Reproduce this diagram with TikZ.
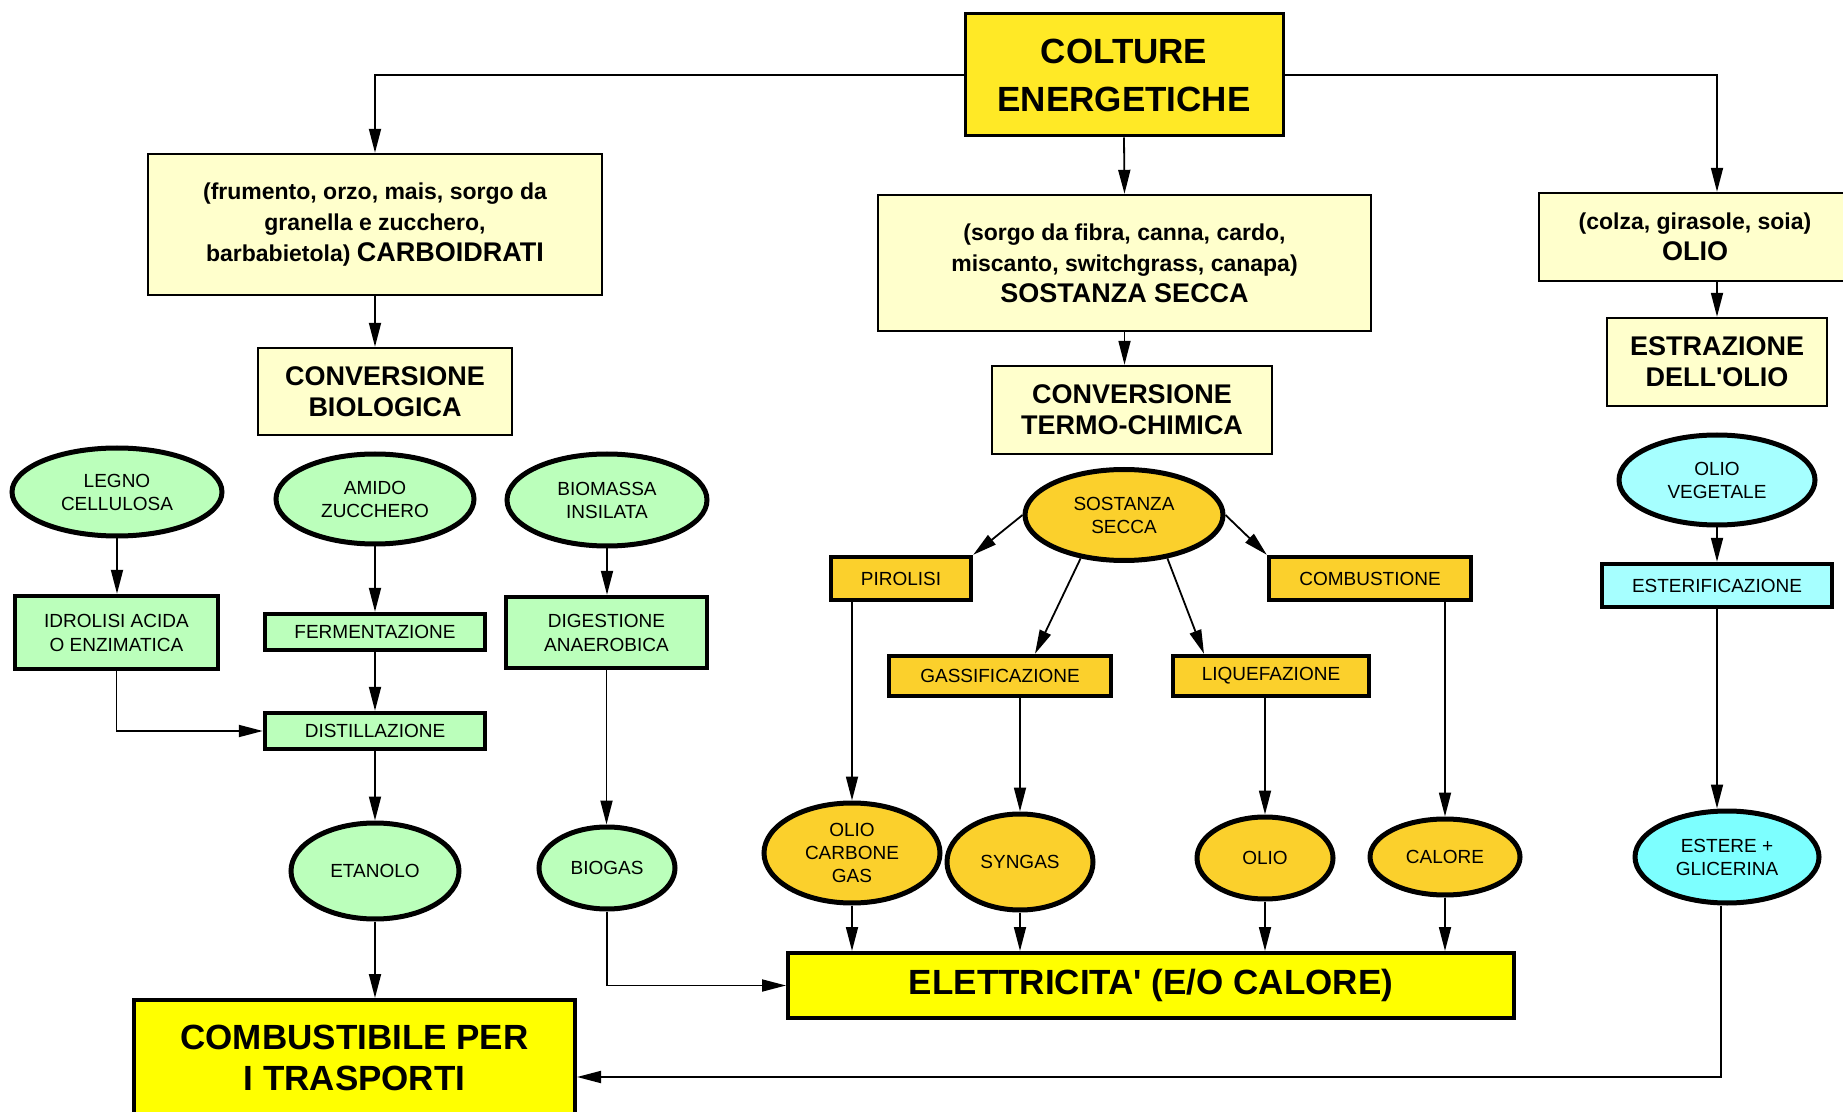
\documentclass[tikz,border=0pt]{standalone}
\usepackage{fontspec}
\setmainfont{Liberation Sans}
\usetikzlibrary{arrows.meta,shapes.geometric}

\definecolor{gtop}{HTML}{FFE926}
\definecolor{gbig}{HTML}{FFFF00}
\definecolor{gch}{HTML}{FFFFCC}
\definecolor{verde}{HTML}{BBFFBB}
\definecolor{arancio}{HTML}{FBD02C}
\definecolor{ciano}{HTML}{A6FFFF}
\definecolor{cianof}{HTML}{7DFFFF}
\newcommand{\piccolo}{\fontsize{11.5}{14.5}\selectfont}

\begin{document}
\begin{tikzpicture}[>={Triangle[length=12pt,width=6pt]},x=0.5pt,y=-0.5pt,
  top/.style={draw,line width=1.5pt,fill=gtop,align=center,inner sep=0pt,
              font=\fontsize{17.5}{24}\selectfont\bfseries},
  big/.style={draw,line width=2pt,fill=gbig,align=center,inner sep=0pt,
              font=\fontsize{17.5}{20.5}\selectfont\bfseries},
  ly/.style={draw,line width=1.2pt,fill=gch,align=center,inner sep=0pt,
             font=\fontsize{13.5}{15.5}\selectfont\bfseries},
  bx/.style={draw,line width=2.2pt,align=center,inner sep=0pt,
             font=\fontsize{9.5}{12}\selectfont},
  el/.style={ellipse,draw,line width=2.5pt,align=center,inner sep=0pt,
             font=\fontsize{9.5}{11.5}\selectfont},
  fl/.style={->,line width=0.9pt}]
\useasboundingbox (0,0) rectangle (1843,1112);
% top row
\node[top,minimum width=159pt,minimum height=61pt] (colt) at (1124,75)
  {COLTURE\\ENERGETICHE};
\node[ly,minimum width=227pt,minimum height=70.5pt] (carbo) at (375,224.5)
  {\piccolo (frumento, orzo, mais, sorgo da\\\piccolo granella e zucchero,\\
   \piccolo barbabietola) {\fontsize{13.5}{14.5}\selectfont CARBOIDRATI}};
\node[ly,minimum width=246.5pt,minimum height=68pt] (secca) at (1124.5,263)
  {\piccolo (sorgo da fibra, canna, cardo,\\\piccolo miscanto, switchgrass, canapa)\\
   SOSTANZA SECCA};
\node[ly,minimum width=156pt,minimum height=44pt] (olio) at (1695,237)
  {\piccolo (colza, girasole, soia)\\OLIO};
\node[ly,minimum width=127pt,minimum height=43.5pt] (convb) at (385,391.5)
  {CONVERSIONE\\BIOLOGICA};
\node[ly,minimum width=140pt,minimum height=44pt] (convt) at (1132,410)
  {CONVERSIONE\\TERMO-CHIMICA};
\node[ly,minimum width=110pt,minimum height=44pt] (estr) at (1717,362)
  {ESTRAZIONE\\DELL\textquotesingle OLIO};
% biological branch
\node[el,fill=verde,minimum width=105pt,minimum height=44pt] (legno) at (117,492)
  {LEGNO\\CELLULOSA};
\node[el,fill=verde,minimum width=99pt,minimum height=45pt] (amido) at (375,499)
  {AMIDO\\ZUCCHERO};
\node[el,fill=verde,minimum width=100pt,minimum height=46pt] (biom) at (607,500)
  {BIOMASSA\\INSILATA};
\node[bx,fill=verde,minimum width=101.5pt,minimum height=36.5pt] (idrol) at (116.5,632.5)
  {IDROLISI ACIDA\\O ENZIMATICA};
\node[bx,fill=verde,minimum width=110pt,minimum height=18pt] (ferm) at (375,632)
  {FERMENTAZIONE};
\node[bx,fill=verde,minimum width=100.5pt,minimum height=35.5pt] (dig) at (606.5,632.5)
  {DIGESTIONE\\ANAEROBICA};
\node[bx,fill=verde,minimum width=110pt,minimum height=18pt] (dist) at (375,731)
  {DISTILLAZIONE};
\node[el,fill=verde,minimum width=84pt,minimum height=48pt] (etan) at (375,871)
  {ETANOLO};
\node[el,fill=verde,minimum width=68pt,minimum height=41pt] (biogas) at (607,868)
  {BIOGAS};
% thermo-chemical branch
\node[el,fill=arancio,minimum width=99pt,minimum height=45.5pt] (sost) at (1124,515)
  {SOSTANZA\\SECCA};
\node[bx,fill=arancio,minimum width=70pt,minimum height=21.5pt] (pir) at (901,578.5)
  {PIROLISI};
\node[bx,fill=arancio,minimum width=101pt,minimum height=21.5pt] (cmb) at (1370,578.5)
  {COMBUSTIONE};
\node[bx,fill=arancio,minimum width=111pt,minimum height=20pt] (gass) at (1000,676)
  {GASSIFICAZIONE};
\node[bx,fill=arancio,minimum width=98pt,minimum height=20pt] (liq) at (1271,676)
  {LIQUEFAZIONE};
\node[el,fill=arancio,minimum width=88pt,minimum height=50pt] (ocg) at (852,853)
  {OLIO\\CARBONE\\GAS};
\node[el,fill=arancio,minimum width=73pt,minimum height=48pt] (syn) at (1020,862)
  {SYNGAS};
\node[el,fill=arancio,minimum width=68pt,minimum height=41pt] (oliout) at (1265,858)
  {OLIO};
\node[el,fill=arancio,minimum width=75pt,minimum height=38pt] (cal) at (1445,857)
  {CALORE};
% oil branch
\node[el,fill=ciano,minimum width=98pt,minimum height=45pt] (oveg) at (1717,480)
  {OLIO\\VEGETALE};
\node[bx,fill=ciano,minimum width=115pt,minimum height=21.5pt] (ester) at (1717,585.5)
  {ESTERIFICAZIONE};
\node[el,fill=cianof,minimum width=92pt,minimum height=46pt] (eg) at (1727,857)
  {ESTERE +\\GLICERINA};
% final products
\node[big,minimum width=363pt,minimum height=32.5pt] (elet) at (1151,985.5)
  {ELETTRICITA\textquotesingle{} (E/O CALORE)};
\node[big,minimum width=220.5pt,minimum height=58pt] (comb) at (354.5,1058)
  {COMBUSTIBILE PER\\I TRASPORTI};
% connectors
\draw[fl] (colt.west) -| (carbo.north);
\draw[fl] (colt.south) -- (secca.north);
\draw[fl] (colt.east) -| (olio.north -| estr.north);
\draw[fl] (carbo.south) -- (carbo.south |- convb.north);
\draw[fl] (secca.south) -- (secca.south |- convt.north);
\draw[fl] (olio.south -| estr.north) -- (estr.north);
\draw[fl] (legno.south) -- (legno.south |- idrol.north);
\draw[fl] (amido.south) -- (ferm.north);
\draw[fl] (biom.south) -- (biom.south |- dig.north);
\draw[fl] (idrol.south) |- (dist.west);
\draw[fl] (ferm.south) -- (dist.north);
\draw[fl] (dist.south) -- (etan.north);
\draw[fl] (etan.south) -- (etan.south |- comb.north);
\draw[fl] (dig.south) -- (dig.south |- biogas.north);
\draw[fl] (biogas.south) |- (elet.west);
\draw[fl] (sost.west) -- (pir.north east);
\draw[fl] (sost.east) -- (cmb.north west);
\draw[fl] (sost.225) -- ([xshift=17.5pt]gass.north);
\draw[fl] (sost.-45) -- ([xshift=-33.5pt]liq.north);
\draw[fl] (pir.south -| ocg.north) -- (ocg.north);
\draw[fl] (gass.south -| syn.north) -- (syn.north);
\draw[fl] (liq.south -| oliout.north) -- (oliout.north);
\draw[fl] (cmb.south -| cal.north) -- (cal.north);
\foreach \e in {ocg,syn,oliout,cal}
  \draw[fl] (\e.south) -- (\e.south |- elet.north);
\draw[fl] (oveg.south) -- (oveg.south |- ester.north);
\draw[fl] (ester.south) -- (ester.south |- eg.north);
\draw[fl] ([xshift=-3pt]eg.south) |- ([yshift=-9.5pt]comb.east);
\end{tikzpicture}
\end{document}
